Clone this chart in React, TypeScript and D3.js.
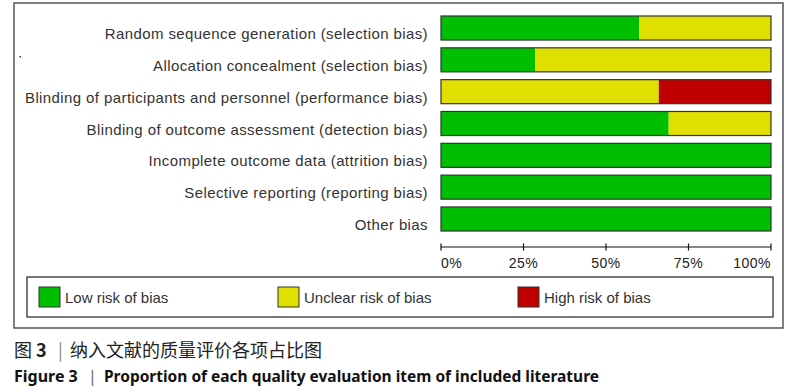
import * as d3 from "d3";

const categories = [
  "Random sequence generation (selection bias)",
  "Allocation concealment (selection bias)",
  "Blinding of participants and personnel (performance bias)",
  "Blinding of outcome assessment (detection bias)",
  "Incomplete outcome data (attrition bias)",
  "Selective reporting (reporting bias)",
  "Other bias",
];
const lowRisk = [60, 28.5, 0, 69, 100, 100, 100];
const unclearRisk = [40, 71.5, 66, 31, 0, 0, 0];
const highRisk = [0, 0, 34, 0, 0, 0, 0];
const tickValues = [0, 25, 50, 75, 100];
const tickLabels = ["0%", "25%", "50%", "75%", "100%"];
const legendLabels = ["Low risk of bias", "Unclear risk of bias", "High risk of bias"];
const captionCn = "纳入文献的质量评价各项占比图";
const captionEn = "Proportion of each quality evaluation item of included literature";

const keys = ["low", "unclear", "high"];
const colors = ["#00bf00", "#e0e000", "#c00000"];

const App = () => {
  const width = 796;
  const height = 392;

  const rows = categories.map((c, i) => ({
    name: c,
    low: lowRisk[i],
    unclear: unclearRisk[i],
    high: highRisk[i],
  }));

  const series = d3.stack<any>().keys(keys)(rows);

  const xScale = d3.scaleLinear().domain([0, 100]).range([441, 771]);
  const yScale = d3
    .scaleBand()
    .domain(categories)
    .range([16, 231])
    .paddingInner(0.245)
    .paddingOuter(0);

  const axisY = 247;
  const legendX = [39, 278, 518];

  return (
    <svg
      width={width}
      height={height}
      style={{ position: "absolute", left: 0, top: 0, background: "#fff" }}
    >
      {/* outer frame */}
      <rect x={14} y={3} width={769} height={325} fill="none" stroke="#555" strokeWidth={1.5} />
      <rect x={19.5} y={56} width={1.5} height={1.5} fill="#333" />

      {/* labels */}
      <g fontFamily="Liberation Sans, Arial, sans-serif" fontSize={15} fill="#333" letterSpacing={0.4}>
        {categories.map((c) => (
          <text key={c} x={428} y={yScale(c)! + yScale.bandwidth() / 2 + 11} textAnchor="end">
            {c}
          </text>
        ))}
      </g>

      {/* bars */}
      {series.map((s, si) => (
        <g key={s.key}>
          {s.map((d, i) =>
            d[1] - d[0] > 0 ? (
              <rect
                key={i}
                x={xScale(d[0])}
                y={yScale(categories[i])}
                width={xScale(d[1]) - xScale(d[0])}
                height={yScale.bandwidth()}
                fill={colors[si]}
              />
            ) : null
          )}
        </g>
      ))}
      {categories.map((c) => (
        <rect
          key={c}
          x={xScale(0)}
          y={yScale(c)}
          width={xScale(100) - xScale(0)}
          height={yScale.bandwidth()}
          fill="none"
          stroke="#333"
          strokeWidth={1.2}
        />
      ))}

      {/* axis */}
      <g stroke="#111" strokeWidth={1.2}>
        <line x1={xScale(0)} x2={xScale(100)} y1={axisY} y2={axisY} />
        {tickValues.map((t) => (
          <line key={t} x1={xScale(t)} x2={xScale(t)} y1={axisY - 3.5} y2={axisY + 3.5} />
        ))}
      </g>
      <g fontFamily="Liberation Sans, Arial, sans-serif" fontSize={14} fill="#222" letterSpacing={0.5}>
        {tickValues.map((t, i) => (
          <text
            key={t}
            x={xScale(t)}
            y={axisY + 21}
            textAnchor={i === 0 ? "start" : i === tickValues.length - 1 ? "end" : "middle"}
          >
            {tickLabels[i]}
          </text>
        ))}
      </g>

      {/* legend */}
      <rect x={27} y={277} width={746} height={40} fill="none" stroke="#222" strokeWidth={1.2} />
      {legendLabels.map((l, i) => (
        <g key={l}>
          <rect x={legendX[i]} y={287} width={21} height={20} fill={colors[i]} stroke="#333" strokeWidth={1} />
          <text
            x={legendX[i] + 26}
            y={303}
            fontFamily="Liberation Sans, Arial, sans-serif"
            fontSize={15}
            fill="#333"
          >
            {l}
          </text>
        </g>
      ))}

      {/* caption */}
      <text x={14} y={357} fontFamily="Noto Sans CJK SC, sans-serif" fontSize={18} fill="#222">
        <tspan>图 </tspan>
        <tspan fontWeight="bold">3</tspan>
        <tspan x={58} fill="#888" fontWeight="normal">|</tspan>
        <tspan x={70}>{captionCn}</tspan>
      </text>
      <text x={14} y={382} fontFamily="Noto Sans, sans-serif" fontSize={16} fontWeight="bold" fill="#111">
        <tspan>Figure 3</tspan>
        <tspan x={88} fontWeight="normal" fill="#666">|</tspan>
        <tspan x={104} textLength={495} lengthAdjust="spacingAndGlyphs">
          {captionEn}
        </tspan>
      </text>
    </svg>
  );
};

export default App;
